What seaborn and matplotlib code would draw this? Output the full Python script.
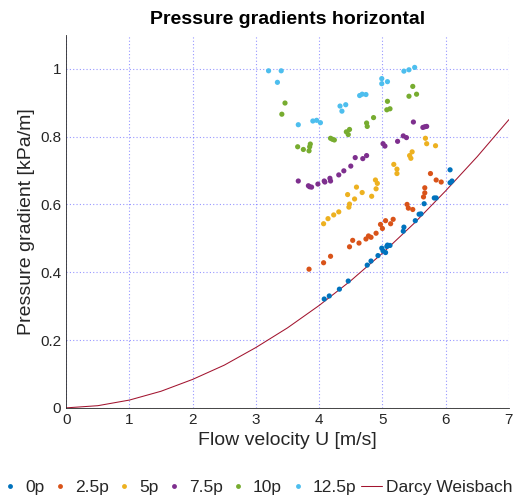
import numpy as np
import pandas as pd
import matplotlib
matplotlib.use("Agg")
import matplotlib.pyplot as plt
from matplotlib.lines import Line2D
import seaborn as sns

# Measured pressure gradients [kPa/m] vs flow velocity [m/s], per particle loading
u_0p = [4.08, 4.16, 4.32, 4.46, 4.76, 4.82, 4.93, 4.99, 5.01, 5.05, 5.07, 5.08,
        5.12, 5.33, 5.34, 5.52, 5.58, 5.61, 5.66, 5.82, 5.85, 6.07, 6.10, 6.07]
dp_0p = [0.321, 0.330, 0.350, 0.374, 0.421, 0.433, 0.449, 0.471, 0.463, 0.458, 0.476, 0.480,
         0.479, 0.521, 0.533, 0.552, 0.571, 0.572, 0.602, 0.619, 0.619, 0.664, 0.669, 0.702]

u_2p5 = [3.84, 4.07, 4.18, 4.48, 4.53, 4.63, 4.74, 4.78, 4.82, 4.90, 4.97, 5.00,
         5.05, 5.13, 5.17, 5.39, 5.41, 5.48, 5.65, 5.67, 5.67, 5.76, 5.85, 5.93]
dp_2p5 = [0.409, 0.428, 0.447, 0.475, 0.494, 0.486, 0.498, 0.507, 0.503, 0.515, 0.541, 0.529,
          0.552, 0.543, 0.556, 0.600, 0.589, 0.585, 0.622, 0.634, 0.649, 0.691, 0.672, 0.666]

u_5p = [4.07, 4.14, 4.23, 4.31, 4.45, 4.47, 4.48, 4.56, 4.59, 4.68, 4.83, 4.89,
        4.90, 4.92, 5.18, 5.23, 5.23, 5.43, 5.45, 5.47, 5.68, 5.70, 5.84]
dp_5p = [0.543, 0.558, 0.569, 0.578, 0.629, 0.592, 0.601, 0.616, 0.651, 0.635, 0.624, 0.672,
         0.646, 0.662, 0.718, 0.704, 0.691, 0.744, 0.736, 0.755, 0.795, 0.779, 0.773]

u_7p5 = [3.67, 3.83, 3.85, 3.88, 3.98, 4.08, 4.09, 4.17, 4.18, 4.31, 4.39, 4.50,
         4.57, 4.69, 4.75, 5.01, 5.04, 5.24, 5.33, 5.38, 5.49, 5.64, 5.67, 5.70]
dp_7p5 = [0.669, 0.655, 0.652, 0.651, 0.660, 0.669, 0.666, 0.677, 0.669, 0.687, 0.699, 0.713,
          0.738, 0.735, 0.744, 0.779, 0.772, 0.786, 0.802, 0.797, 0.843, 0.827, 0.829, 0.830]

u_10p = [3.41, 3.46, 3.66, 3.75, 3.84, 3.85, 3.86, 4.18, 4.21, 4.24, 4.43, 4.46,
         4.48, 4.75, 4.76, 4.86, 5.07, 5.08, 5.12, 5.42, 5.48, 5.54]
dp_10p = [0.866, 0.899, 0.770, 0.762, 0.758, 0.770, 0.778, 0.795, 0.792, 0.790, 0.814, 0.806,
          0.821, 0.840, 0.830, 0.856, 0.879, 0.904, 0.882, 0.919, 0.948, 0.925]

u_12p5 = [3.20, 3.40, 3.34, 3.67, 3.90, 3.96, 4.02, 4.33, 4.42, 4.36, 4.64, 4.68,
          4.74, 4.99, 4.99, 5.08, 5.34, 5.42, 5.51]
dp_12p5 = [0.994, 0.994, 0.960, 0.835, 0.846, 0.848, 0.841, 0.890, 0.894, 0.875, 0.921, 0.925,
           0.924, 0.971, 0.956, 0.962, 0.993, 0.997, 1.004]

# Darcy-Weisbach reference curve for clean water
u_dw = [0.0, 0.5, 1.0, 1.5, 2.0, 2.5, 3.0, 3.5, 4.0, 4.5, 5.0, 5.5, 6.0, 6.5, 7.0]
dp_dw = [0.0, 0.0064, 0.023, 0.049, 0.084, 0.126, 0.178, 0.236, 0.302, 0.375,
         0.456, 0.544, 0.640, 0.741, 0.850]

series_names = ["0p", "2.5p", "5p", "7.5p", "10p", "12.5p"]
series_u = [u_0p, u_2p5, u_5p, u_7p5, u_10p, u_12p5]
series_dp = [dp_0p, dp_2p5, dp_5p, dp_7p5, dp_10p, dp_12p5]
colors = ["#0072BD", "#D95319", "#EDB120", "#7E2F8E", "#77AC30", "#4DBEEE"]
dw_color = "#A2142F"

x_ticks = [0, 1, 2, 3, 4, 5, 6, 7]
y_ticks = [0, 0.2, 0.4, 0.6, 0.8, 1.0]
y_tick_labels = ["0", "0.2", "0.4", "0.6", "0.8", "1"]

df = pd.concat(
    [pd.DataFrame({"U": u, "dp": p, "load": n})
     for n, u, p in zip(series_names, series_u, series_dp)],
    ignore_index=True)
df_dw = pd.DataFrame({"U": u_dw, "dp": dp_dw})

sns.set_style("white")
plt.rcParams["font.family"] = ["Liberation Sans", "DejaVu Sans"]

fig = plt.figure(figsize=(5.13, 4.98), dpi=100)
ax = fig.add_axes([0.129, 0.181, 0.863, 0.749])

sns.lineplot(data=df_dw, x="U", y="dp", color=dw_color, linewidth=0.75, ax=ax,
             zorder=2)
sns.scatterplot(data=df, x="U", y="dp", hue="load", hue_order=series_names,
                palette=colors, s=14, linewidth=0, ax=ax, legend=False, zorder=3)

ax.set_xlim(0, 7)
ax.set_ylim(0, 1.1)
ax.set_xticks(x_ticks)
ax.set_xticklabels([str(t) for t in x_ticks])
ax.set_yticks(y_ticks)
ax.set_yticklabels(y_tick_labels)
ax.grid(True, linestyle=(0, (1, 2)), color="#6b6bff", alpha=0.7, linewidth=0.8)
ax.set_axisbelow(True)

for side in ["top", "right"]:
    ax.spines[side].set_visible(False)
for side in ["left", "bottom"]:
    ax.spines[side].set_color("#262626")
    ax.spines[side].set_linewidth(0.6)
ax.tick_params(axis="both", direction="in", length=3, width=0.6, colors="#262626",
               labelsize=11, labelcolor="#262626")

ax.set_xlabel("Flow velocity U [m/s]", fontsize=14, color="#262626", labelpad=4)
ax.set_ylabel("Pressure gradient [kPa/m]", fontsize=14, color="#262626", labelpad=4)
ax.set_title("Pressure gradients horizontal", fontsize=14, fontweight="bold",
             color="black", pad=8)

handles = [Line2D([], [], linestyle="none", marker="o", markersize=3.5,
                  markerfacecolor=c, markeredgewidth=0, label=n)
           for n, c in zip(series_names, colors)]
handles.append(Line2D([], [], color=dw_color, linewidth=0.75, label="Darcy Weisbach"))
fig.legend(handles=handles, loc="lower center", bbox_to_anchor=(0.5, -0.005),
           ncol=7, frameon=False, fontsize=12.5, handlelength=1.2,
           handletextpad=0.25, columnspacing=0.3, borderpad=0.0, borderaxespad=0.3)

fig.savefig("out.png", dpi=100)
